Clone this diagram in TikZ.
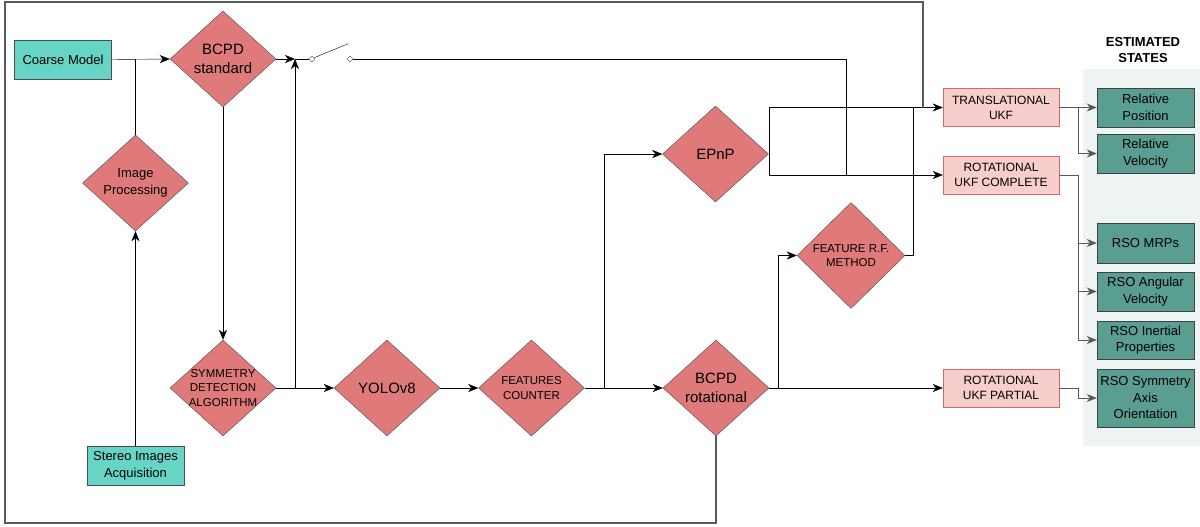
\documentclass[tikz,border=0pt]{standalone}
\usepackage{fontspec}
\setmainfont{Liberation Sans}
\usetikzlibrary{shapes.geometric,arrows.meta}
\definecolor{dred}{HTML}{E07A7A}
\definecolor{lteal}{HTML}{67D5C5}
\definecolor{dteal}{HTML}{5A9E92}
\definecolor{lpink}{HTML}{F8CECC}
\definecolor{pinkline}{HTML}{D46A66}
\definecolor{panel}{HTML}{EEF3F3}
\newcommand{\bigtxt}{\fontsize{15}{19}\selectfont}
\newcommand{\smalltxt}{\fontsize{11.5}{14.3}\selectfont}

\begin{document}
\begin{tikzpicture}[x=1pt,y=-1pt,>={Stealth[length=10pt,width=8pt,inset=3pt]},
	dia/.style={diamond,draw=black!70,fill=dred,minimum width=106pt,minimum height=96pt,inner sep=-20pt,align=center},
	inbox/.style={rectangle,draw=black!70,fill=lteal,minimum width=97pt,minimum height=39pt,align=center,font=\fontsize{13}{16.5}\selectfont},
	ukf/.style={rectangle,draw=pinkline,fill=lpink,minimum width=116pt,minimum height=38pt,align=center,font=\fontsize{12}{15}\selectfont},
	est/.style={rectangle,draw=black!75,fill=dteal,minimum width=97pt,minimum height=39pt,align=center,font=\fontsize{13}{16.5}\selectfont},
	sw/.style={circle,draw=black!80,fill=white,inner sep=0pt,minimum size=5pt},
	gline/.style={black!65,line width=0.9pt}]

			\useasboundingbox (0,0) rectangle (1200,527);
			\fill[panel] (1083,69) rectangle (1200,446);

			% pipeline
			\node[inbox] (n1) at (63,59.5) {Coarse Model};
			\node[inbox] (n2) at (135.5,466) {Stereo Images\\Acquisition};
			\node[dia,font=\fontsize{13}{17}\selectfont] (n3) at (135.5,183) {Image\\Processing};
			\node[dia,font=\bigtxt] (n4) at (223,59) {BCPD\\standard};
			\node[dia,font=\smalltxt] (n5) at (223,388) {SYMMETRY\\DETECTION\\ALGORITHM};
			\node[dia,font=\bigtxt] (n6) at (387,388) {YOLOv8};
			\node[dia,font=\smalltxt] (n7) at (531.5,388) {FEATURES\\COUNTER};
			\node[dia,font=\bigtxt] (n8) at (716,388) {BCPD\\rotational};
			\node[dia,font=\bigtxt] (n9) at (715.5,154) {EPnP};
			\node[dia,minimum width=108pt,minimum height=106pt,font=\smalltxt] (n10) at (851,255.5) {FEATURE R.F.\\METHOD};

			\node[sw] (w1) at (312,59) {};
			\node[sw] (w2) at (350,59) {};

			% filters
			\node[ukf] (f1) at (1001,107.5) {TRANSLATIONAL\\UKF};
			\node[ukf] (f2) at (1001,175) {ROTATIONAL\\UKF COMPLETE};
			\node[ukf] (f3) at (1001,388) {ROTATIONAL\\UKF PARTIAL};

			% states
			\node[font=\bfseries\fontsize{13}{16}\selectfont,align=center] (t) at (1143,50) {ESTIMATED\\STATES};
			\node[est] (s1) at (1145.5,107.5) {Relative\\Position};
			\node[est] (s2) at (1145.5,153.5) {Relative\\Velocity};
			\node[est,minimum height=40pt] (s3) at (1145.5,243) {RSO MRPs};
			\node[est] (s4) at (1145.5,291.5) {RSO Angular\\Velocity};
			\node[est,minimum height=38pt] (s5) at (1145.5,340) {RSO Inertial\\Properties};
			\node[est,minimum height=58pt] (s6) at (1145.5,398) {RSO Symmetry\\Axis\\Orientation};

			\coordinate (j1) at (135.5,59);
			\coordinate (j2) at (295,59);
			\coordinate (j3) at (295,388);
			\coordinate (j4) at (846,175);
			\coordinate (j5) at (604,388);
			\coordinate (j6) at (778,388);
			\coordinate (j7) at (913,107.5);
			\coordinate (j8) at (923,107.5);
			\coordinate (j9) at (1078,107.5);
			\coordinate (j10) at (1078,175);
			\coordinate (j11) at (1078,388);

			\draw[->] (n1.east) -- (n4.west);
			\draw (n3.north) -- (j1);
			\draw[->] (n2.north) -- (n3.south);
			\draw[->] (n4.east) -- (j2);
			\draw[->] (n4.south) -- (n5.north);
			\draw[->] (n5.east) -- (n6.west);
			\draw[->] (j3) -- (j2);
			\draw (j2) -- (w1.west);
			\draw (w1.30) -- ++(34,-14);
			\draw (w2.east) -| (j4);
			\draw[->] (n6.east) -- (n7.west);
			\draw[->] (n7.east) -- (n8.west);
			\draw[->] (j5) |- (n9.west);
			\draw[->] (n9.east) |- (f1.west);
			\draw[->] (n9.east) |- (f2.west);
			\draw[->] (n8.east) -- (f3.west);
			\draw[->] (j6) |- (n10.west);
			\draw (n10.east) -| (j7);
			\draw[black!65,line width=1.1pt] (n8.south) |- (5,523) |- (923,2) -- (j8);

			\draw[gline] (f1.east) -- (j9);
			\draw[gline,->] (j9) -- (s1.west);
			\draw[gline,->] (j9) |- (s2.west);
			\draw[gline] (f2.east) -- (j10);
			\draw[gline,->] (j10) |- (s3.west);
			\draw[gline,->] (j10) |- (s4.west);
			\draw[gline,->] (j10) |- (s5.west);
			\draw[gline] (f3.east) -- (j11);
			\draw[gline,->] (j11) |- (s6.west);
		\end{tikzpicture}
\end{document}
